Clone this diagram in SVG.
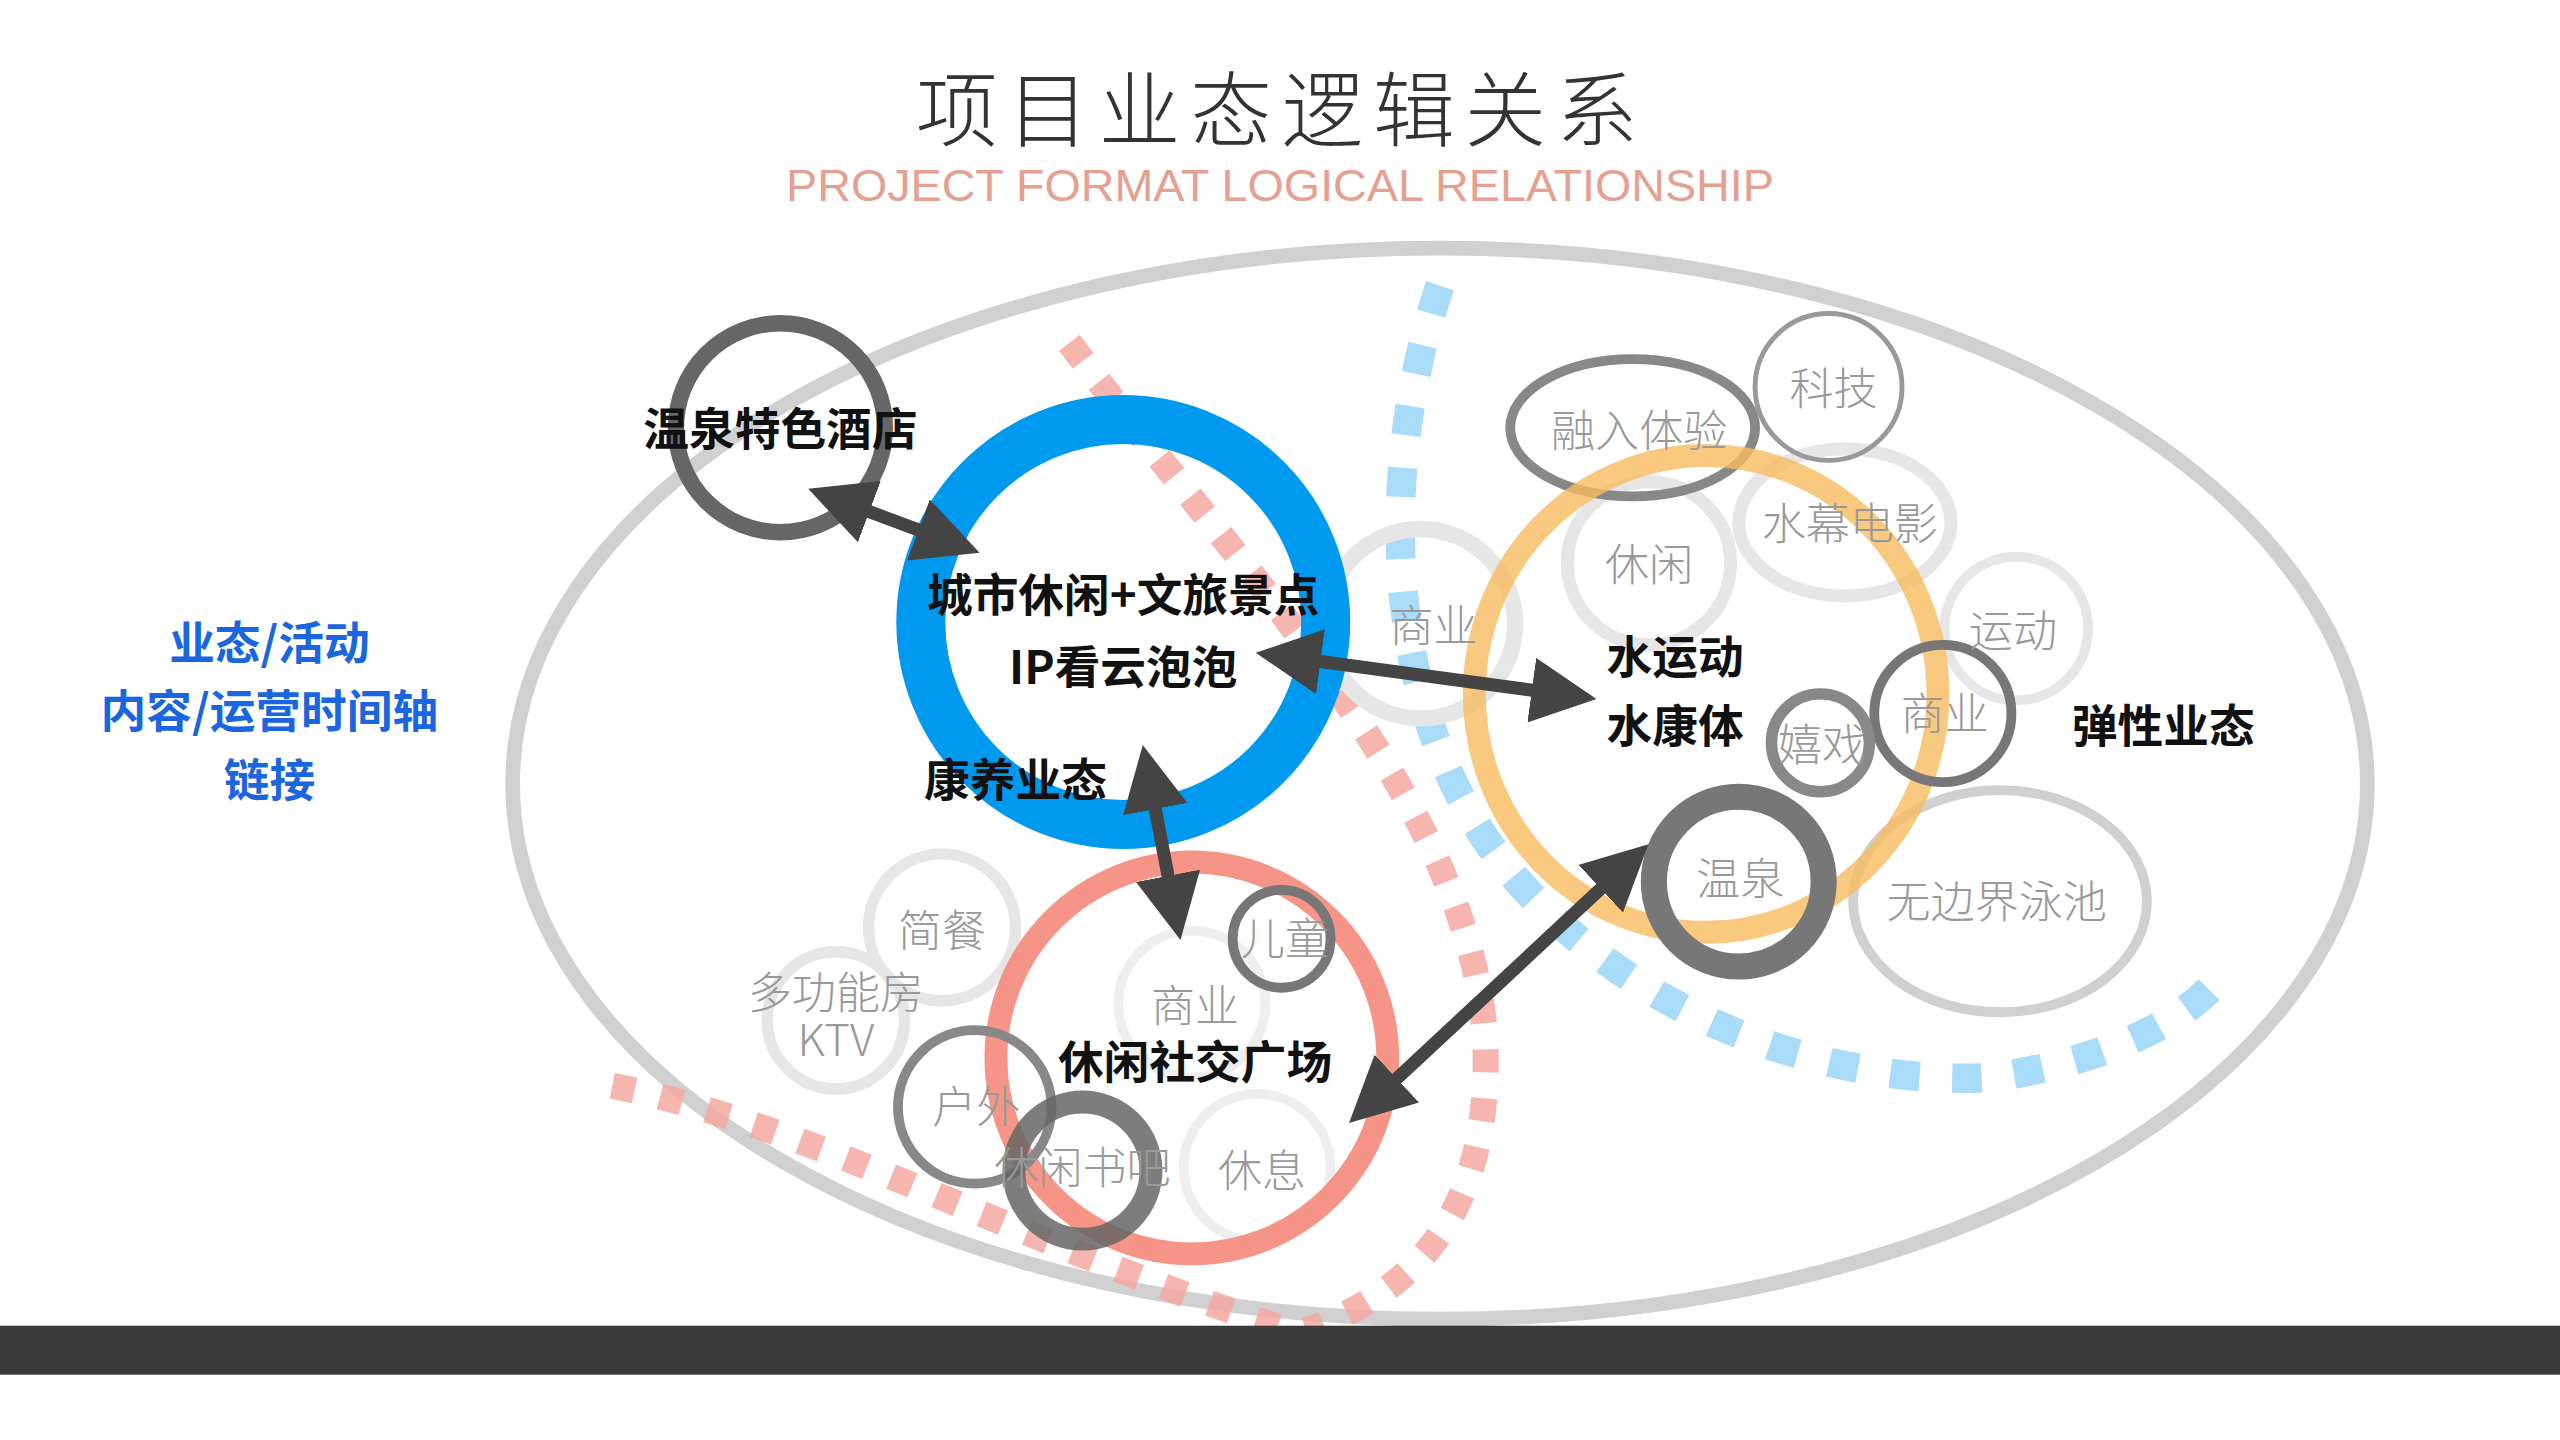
<svg xmlns="http://www.w3.org/2000/svg" width="2560" height="1440" viewBox="0 0 2560 1440">
<defs>
<style>
.t{font-family:"Noto Sans CJK SC","Liberation Sans",sans-serif}
.b{font-weight:700;fill:#111;font-size:28px}
.g{fill:#999;font-size:27px;font-weight:300}
.c{fill:none}
.ar{stroke:#444;stroke-width:8;fill:none;marker-start:url(#ah);marker-end:url(#ah)}
</style>
<marker id="ah" viewBox="0 0 10 10" refX="6" refY="5" markerWidth="5" markerHeight="5" orient="auto-start-reverse" markerUnits="strokeWidth"><path d="M0,0L10,5L0,10z" fill="#444"/></marker>
</defs>
<rect width="2560" height="1440" fill="#fff"/>
<g transform="scale(1.63265)">
<text class="t" x="785" y="86" text-anchor="middle" font-size="50" font-weight="300" fill="#333" letter-spacing="6">项目业态逻辑关系</text>
<text x="784" y="123" text-anchor="middle" font-size="27" fill="#e4a090" font-family="Liberation Sans Narrow,Liberation Sans,sans-serif" textLength="605" lengthAdjust="spacingAndGlyphs">PROJECT FORMAT LOGICAL RELATIONSHIP</text>
<g id="frame"><ellipse cx="882" cy="480" rx="568" ry="328" class="c" stroke="#c8c8c8" stroke-width="9" opacity="0.85"/></g>
<g id="dashes">
<path d="M655,210 C760,350 910,500 910,650 C910,740 870,790 800,815" class="c" stroke="#f5a8a0" stroke-width="16" stroke-dasharray="14 16" opacity="0.85"/>
<path d="M375,665 C500,690 620,760 790,815" class="c" stroke="#f5a8a0" stroke-width="16" stroke-dasharray="14 16" opacity="0.85"/>
<path d="M882,175 C840,300 850,450 930,540 C1010,630 1130,665 1220,660 C1290,650 1340,625 1360,598" class="c" stroke="#a8dcf8" stroke-width="18" stroke-dasharray="18 20"/>
</g>
<g id="minor">
<circle cx="870" cy="382" r="58" class="c" stroke="#e6e6e6" stroke-width="10"/>
<circle cx="1010" cy="345" r="50" class="c" stroke="#e6e6e6" stroke-width="8"/>
<ellipse cx="1130" cy="320" rx="65" ry="45" class="c" stroke="#e6e6e6" stroke-width="8"/>
<circle cx="1235" cy="385" r="44" class="c" stroke="#e6e6e6" stroke-width="6"/>
<circle cx="1120" cy="237" r="45" class="c" stroke="#999" stroke-width="3"/>
<ellipse cx="1000" cy="262" rx="75" ry="42" class="c" stroke="#888" stroke-width="6"/>
<ellipse cx="1225" cy="552" rx="90" ry="68" class="c" stroke="#d0d0d0" stroke-width="6"/>
<circle cx="577" cy="568" r="45" class="c" stroke="#e6e6e6" stroke-width="7"/>
<circle cx="512" cy="625" r="42" class="c" stroke="#e6e6e6" stroke-width="7"/>
<circle cx="730" cy="615" r="45" class="c" stroke="#eee" stroke-width="6"/>
<circle cx="770" cy="715" r="45" class="c" stroke="#eee" stroke-width="6"/>
</g>
<g id="hotel"><circle cx="478" cy="262" r="64" class="c" stroke="#666" stroke-width="10"/><text class="t b" x="478" y="273" text-anchor="middle">温泉特色酒店</text></g>
<g id="ip"><circle cx="688" cy="381" r="124" class="c" stroke="#0099f0" stroke-width="30"/>
<text class="t b" x="688" y="375" text-anchor="middle" font-size="29">城市休闲+文旅景点</text>
<text class="t b" x="688" y="419" text-anchor="middle" font-size="29">IP看云泡泡</text>
<text class="t b" x="622" y="488" text-anchor="middle">康养业态</text></g>
<g id="water"><ellipse cx="1045" cy="425" rx="142" ry="146" class="c" stroke="#f8bb60" stroke-width="14" opacity="0.8"/>
<circle cx="1190" cy="437" r="42" class="c" stroke="#777" stroke-width="6"/>
<circle cx="1115" cy="455" r="30" class="c" stroke="#888" stroke-width="7"/>
<circle cx="1065" cy="540" r="52" class="c" stroke="#777" stroke-width="16"/>
<text class="t b" x="1026" y="413" text-anchor="middle">水运动</text>
<text class="t b" x="1026" y="455" text-anchor="middle">水康体</text></g>
<g id="plaza"><circle cx="730" cy="648" r="120" class="c" stroke="#f58a7a" stroke-width="14" opacity="0.9"/>
<circle cx="785" cy="575" r="30" class="c" stroke="#777" stroke-width="6"/>
<circle cx="597" cy="678" r="47" class="c" stroke="#888" stroke-width="6"/>
<circle cx="663" cy="717" r="42" class="c" stroke="#666" stroke-width="14" opacity="0.85"/>
<text class="t b" x="732" y="661" text-anchor="middle">休闲社交广场</text></g>
<g id="labels">
<text class="t g" x="878" y="393" text-anchor="middle">商业</text>
<text class="t g" x="1010" y="356" text-anchor="middle">休闲</text>
<text class="t g" x="1133" y="331" text-anchor="middle">水幕电影</text>
<text class="t g" x="1233" y="396" text-anchor="middle">运动</text>
<text class="t g" x="1123" y="248" text-anchor="middle">科技</text>
<text class="t g" x="1004" y="274" text-anchor="middle">融入体验</text>
<text class="t g" x="1191" y="447" text-anchor="middle">商业</text>
<text class="t g" x="1116" y="466" text-anchor="middle">嬉戏</text>
<text class="t g" x="1066" y="548" text-anchor="middle">温泉</text>
<text class="t g" x="1223" y="562" text-anchor="middle">无边界泳池</text>
<text class="t g" x="577" y="580" text-anchor="middle">简餐</text>
<text class="t g" x="512" y="618" text-anchor="middle" font-size="20">多功能房</text>
<text class="t g" x="512" y="647" text-anchor="middle" font-size="19" font-family="Liberation Sans,sans-serif">KTV</text>
<text class="t g" x="598" y="688" text-anchor="middle">户外</text>
<text class="t g" x="663" y="725" text-anchor="middle" font-size="22">休闲书吧</text>
<text class="t g" x="787" y="585" text-anchor="middle">儿童</text>
<text class="t g" x="732" y="626" text-anchor="middle">商业</text>
<text class="t g" x="773" y="727" text-anchor="middle">休息</text>
<text class="t b" x="1325" y="455" text-anchor="middle">弹性业态</text>
<text class="t" x="165" y="404" text-anchor="middle" font-size="28" font-weight="700" fill="#1a66e0">业态/活动</text>
<text class="t" x="165" y="446" text-anchor="middle" font-size="28" font-weight="700" fill="#1a66e0">内容/运营时间轴</text>
<text class="t" x="165" y="488" text-anchor="middle" font-size="28" font-weight="700" fill="#1a66e0">链接</text>
</g>
<g id="connectors">
<line x1="510" y1="305" x2="585" y2="333" class="ar"/>
<line x1="785" y1="402" x2="962" y2="426" class="ar"/>
<line x1="703" y1="472" x2="720" y2="560" class="ar"/>
<line x1="838" y1="677" x2="998" y2="528" class="ar"/>
</g>
<rect x="0" y="812" width="1568" height="30" fill="#3a3a3a"/>
</g>
</svg>
